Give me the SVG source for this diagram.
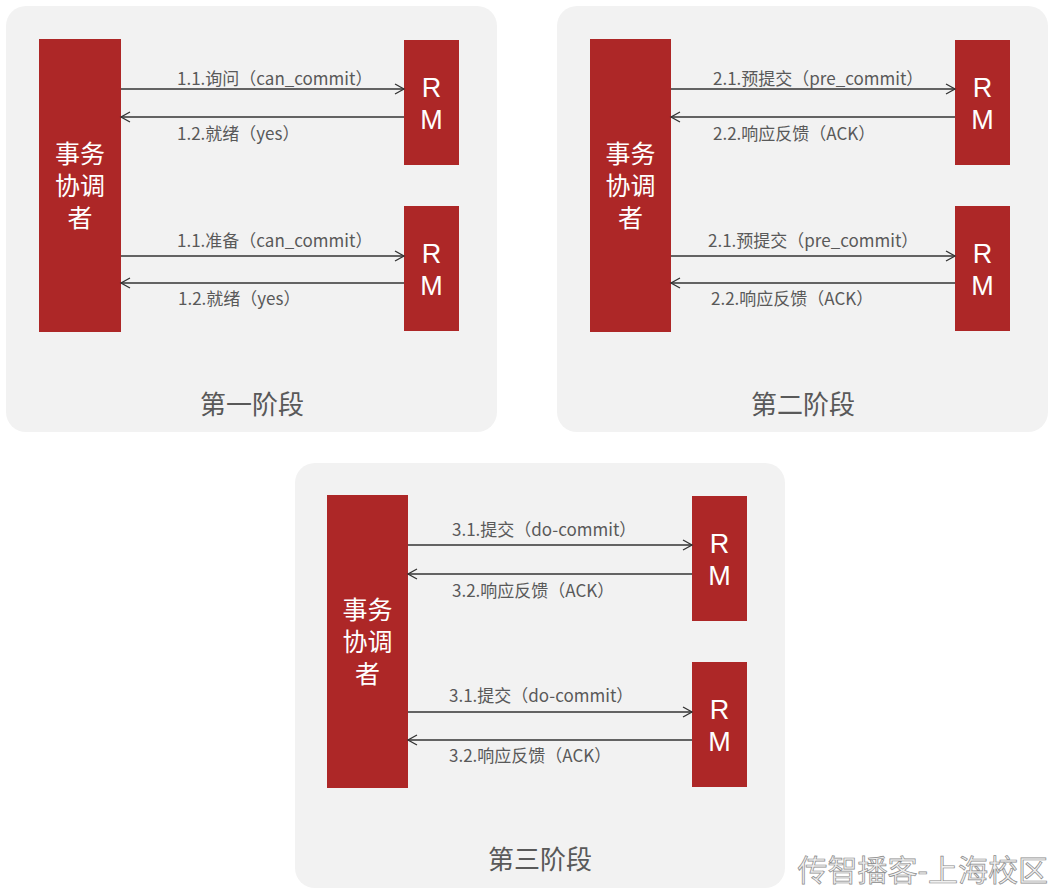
<svg xmlns="http://www.w3.org/2000/svg" width="1056" height="894" viewBox="0 0 1056 894">
<defs>
<marker id="ah" markerWidth="12" markerHeight="12" refX="10" refY="6" orient="auto" markerUnits="userSpaceOnUse">
<path d="M1,1 L10,6 L1,11" fill="none" stroke="#333" stroke-width="1.3"/>
</marker>
<style>
.panel{fill:#f2f2f2}
.box{fill:#ad2727}
.wt{fill:#fff;font-family:"Liberation Sans","Noto Sans CJK SC",sans-serif;font-size:25px;text-anchor:middle}
.rm{fill:#fff;font-family:"Liberation Sans",sans-serif;font-size:27px;text-anchor:middle}
.lbl{fill:#595959;font-family:"Noto Sans CJK SC","Noto Sans",sans-serif;font-size:17px}
.ttl{fill:#595959;font-family:"Noto Sans CJK SC",sans-serif;font-size:26px;text-anchor:middle}
.ln{stroke:#333;stroke-width:1.3;fill:none;marker-end:url(#ah)}
</style>
</defs>
<rect width="1056" height="894" fill="#fff"/>
<g id="panel1">
<rect class="panel" x="6" y="6" width="491" height="426" rx="20"/>
<text class="ttl" x="252" y="414">第一阶段</text>
</g>
<g id="panel2">
<rect class="panel" x="557" y="6" width="491" height="426" rx="20"/>
<text class="ttl" x="803" y="414">第二阶段</text>
</g>
<g id="panel3">
<rect class="panel" x="295" y="463" width="490" height="425" rx="20"/>
<text class="ttl" x="540" y="869">第三阶段</text>
</g>

<g id="coord1"><rect class="box" x="39" y="39" width="82" height="293"/>
<text class="wt"><tspan x="80" y="163">事务</tspan><tspan x="80" y="195">协调</tspan><tspan x="80" y="227">者</tspan></text></g>
<g id="rm1a"><rect class="box" x="404" y="40" width="55" height="125"/>
<text class="rm" x="431.5" y="97">R</text><text class="rm" x="431.5" y="129">M</text></g>
<g id="rm1b"><rect class="box" x="404" y="206" width="55" height="125"/>
<text class="rm" x="431.5" y="263">R</text><text class="rm" x="431.5" y="295">M</text></g>

<g id="coord2"><rect class="box" x="590" y="39" width="81" height="293"/>
<text class="wt"><tspan x="630.5" y="163">事务</tspan><tspan x="630.5" y="195">协调</tspan><tspan x="630.5" y="227">者</tspan></text></g>
<g id="rm2a"><rect class="box" x="955" y="40" width="55" height="125"/>
<text class="rm" x="982.5" y="97">R</text><text class="rm" x="982.5" y="129">M</text></g>
<g id="rm2b"><rect class="box" x="955" y="206" width="55" height="125"/>
<text class="rm" x="982.5" y="263">R</text><text class="rm" x="982.5" y="295">M</text></g>

<g id="coord3"><rect class="box" x="327" y="495" width="81" height="293"/>
<text class="wt"><tspan x="367.5" y="619">事务</tspan><tspan x="367.5" y="651">协调</tspan><tspan x="367.5" y="683">者</tspan></text></g>
<g id="rm3a"><rect class="box" x="692" y="496" width="55" height="125"/>
<text class="rm" x="719.5" y="553">R</text><text class="rm" x="719.5" y="585">M</text></g>
<g id="rm3b"><rect class="box" x="692" y="662" width="55" height="125"/>
<text class="rm" x="719.5" y="719">R</text><text class="rm" x="719.5" y="751">M</text></g>

<g id="connectors">
<line class="ln" x1="121" y1="89" x2="404" y2="89"/>
<line class="ln" x1="404" y1="117" x2="121" y2="117"/>
<line class="ln" x1="121" y1="256" x2="404" y2="256"/>
<line class="ln" x1="404" y1="283" x2="121" y2="283"/>
<line class="ln" x1="671" y1="89" x2="955" y2="89"/>
<line class="ln" x1="955" y1="117" x2="671" y2="117"/>
<line class="ln" x1="671" y1="256" x2="955" y2="256"/>
<line class="ln" x1="955" y1="283" x2="671" y2="283"/>
<line class="ln" x1="408" y1="545" x2="692" y2="545"/>
<line class="ln" x1="692" y1="574" x2="408" y2="574"/>
<line class="ln" x1="408" y1="712" x2="692" y2="712"/>
<line class="ln" x1="692" y1="740" x2="408" y2="740"/>
</g>
<g id="labels">
<text class="lbl" x="177" y="85">1.1.询问（can_commit）</text>
<text class="lbl" x="177" y="140">1.2.就绪（yes）</text>
<text class="lbl" x="177" y="247">1.1.准备（can_commit）</text>
<text class="lbl" x="178" y="305">1.2.就绪（yes）</text>
<text class="lbl" x="713" y="85">2.1.预提交（pre_commit）</text>
<text class="lbl" x="713" y="140">2.2.响应反馈（ACK）</text>
<text class="lbl" x="708" y="247">2.1.预提交（pre_commit）</text>
<text class="lbl" x="711" y="305">2.2.响应反馈（ACK）</text>
<text class="lbl" x="452" y="536">3.1.提交（do-commit）</text>
<text class="lbl" x="452" y="597">3.2.响应反馈（ACK）</text>
<text class="lbl" x="449" y="702">3.1.提交（do-commit）</text>
<text class="lbl" x="449" y="762">3.2.响应反馈（ACK）</text>
</g>
<text x="1048" y="881" text-anchor="end" font-family="Noto Sans CJK SC,sans-serif" font-size="30" fill="#f0f0f0" stroke="#8a8a8a" stroke-width="0.7">传智播客-上海校区</text>
</svg>
